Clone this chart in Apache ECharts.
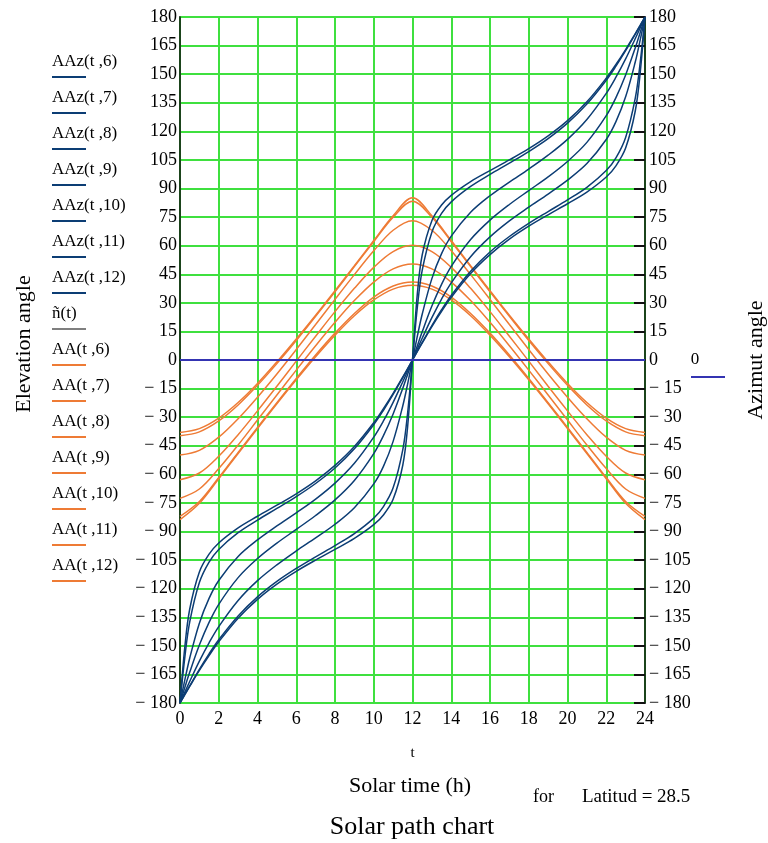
<!DOCTYPE html>
<html>
<head>
<meta charset="utf-8">
<script src="https://cdn.jsdelivr.net/npm/echarts@6/dist/echarts.min.js"></script>
<style>
  html, body { margin: 0; padding: 0; background: #fff; }
  #chart { width: 768px; height: 843px; }
</style>
</head>
<body>
<div id="chart"></div>
<script>
// solar time (h) for the elevation curves
const hours = [0,1,2,3,4,5,6,7,8,9,10,11,12,13,14,15,16,17,18,19,20,21,22,23,24];
// elevation angle AA(t, month)
const elevJun = [-38.0,-36.0,-30.5,-22.3,-12.3,-1.0,11.0,23.5,36.4,49.5,62.7,75.7,85.1,75.7,62.7,49.5,36.4,23.5,11.0,-1.0,-12.3,-22.3,-30.5,-36.0,-38.0];
const elevJul = [-39.7,-37.7,-32.0,-23.6,-13.3,-1.9,10.2,22.9,35.8,49.0,62.1,74.9,83.3,74.9,62.1,49.0,35.8,22.9,10.2,-1.9,-13.3,-23.6,-32.0,-37.7,-39.7];
const elevAug = [-49.9,-47.4,-40.5,-30.8,-19.5,-7.3,5.5,18.6,31.8,44.8,57.3,68.1,73.1,68.1,57.3,44.8,31.8,18.6,5.5,-7.3,-19.5,-30.8,-40.5,-47.4,-49.9];
const elevSep = [-62.8,-59.3,-50.5,-39.2,-26.7,-13.8,-0.6,12.5,25.4,37.6,48.6,56.9,60.2,56.9,48.6,37.6,25.4,12.5,-0.6,-13.8,-26.7,-39.2,-50.5,-59.3,-62.8];
const elevOct = [-72.6,-67.7,-57.0,-44.6,-31.5,-18.4,-5.3,7.5,19.8,31.2,40.9,47.8,50.4,47.8,40.9,31.2,19.8,7.5,-5.3,-18.4,-31.5,-44.6,-57.0,-67.7,-72.6];
const elevNov = [-82.1,-74.3,-61.7,-48.5,-35.4,-22.4,-9.7,2.6,14.1,24.4,33.0,38.8,40.9,38.8,33.0,24.4,14.1,2.6,-9.7,-22.4,-35.4,-48.5,-61.7,-74.3,-82.1];
const elevDec = [-83.8,-75.2,-62.3,-49.1,-36.0,-23.0,-10.4,1.7,13.0,23.2,31.5,37.2,39.2,37.2,31.5,23.2,13.0,1.7,-10.4,-23.0,-36.0,-49.1,-62.3,-75.2,-83.8];

// solar time (h) for the azimuth curves (denser where they are steep)
const azHours = [0,0.25,0.5,1,1.5,2,3,4,5,6,7,8,9,10,10.5,11,11.5,11.75,12,12.25,12.5,13,13.5,14,15,16,17,18,19,20,21,22,22.5,23,23.5,23.75,24];
// azimuth angle AAz(t, month)
const azJun = [-180,-175.6,-171.3,-162.9,-155.1,-147.9,-135.5,-125.6,-117.6,-110.9,-105.0,-99.4,-93.6,-86.4,-81.3,-73.1,-55.1,-34.8,0,34.8,55.1,73.1,81.3,86.4,93.6,99.4,105.0,110.9,117.6,125.6,135.5,147.9,155.1,162.9,171.3,175.6,180];
const azJul = [-180,-175.5,-171.0,-162.3,-154.2,-146.8,-134.3,-124.3,-116.2,-109.4,-103.3,-97.4,-91.1,-83.0,-76.9,-67.1,-47.0,-27.7,0,27.7,47.0,67.1,76.9,83.0,91.1,97.4,103.3,109.4,116.2,124.3,134.3,146.8,154.2,162.3,171.0,175.5,180];
const azAug = [-180,-174.3,-168.7,-158.0,-148.4,-139.9,-126.2,-115.8,-107.5,-100.2,-93.4,-86.2,-77.5,-65.0,-55.8,-42.7,-24.0,-12.5,0,12.5,24.0,42.7,55.8,65.0,77.5,86.2,93.4,100.2,107.5,115.8,126.2,139.9,148.4,158.0,168.7,174.3,180];
const azSep = [-180,-171.8,-163.9,-149.6,-137.7,-128.2,-114.2,-104.2,-96.1,-88.9,-81.6,-73.4,-63.2,-49.1,-39.7,-28.3,-14.8,-7.5,0,7.5,14.8,28.3,39.7,49.1,63.2,73.4,81.6,88.9,96.1,104.2,114.2,128.2,137.7,149.6,163.9,171.8,180];
const azOct = [-180,-167.9,-156.5,-138.1,-125.1,-115.7,-103.1,-94.4,-87.1,-80.2,-73.0,-64.6,-54.2,-40.5,-32.0,-22.2,-11.4,-5.8,0,5.8,11.4,22.2,32.0,40.5,54.2,64.6,73.0,80.2,87.1,94.4,103.1,115.7,125.1,138.1,156.5,167.9,180];
const azNov = [-180,-155.9,-137.6,-116.8,-106.1,-99.4,-90.6,-84.0,-77.9,-71.7,-64.8,-56.7,-46.6,-33.9,-26.4,-18.1,-9.2,-4.6,0,4.6,9.2,18.1,26.4,33.9,46.6,56.7,64.8,71.7,77.9,84.0,90.6,99.4,106.1,116.8,137.6,155.9,180];
const azDec = [-180,-150.5,-130.8,-111.2,-101.9,-96.0,-88.1,-82.0,-76.2,-70.2,-63.4,-55.3,-45.4,-32.9,-25.5,-17.5,-8.9,-4.5,0,4.5,8.9,17.5,25.5,32.9,45.4,55.3,63.4,70.2,76.2,82.0,88.1,96.0,101.9,111.2,130.8,150.5,180];

// horizontal zero line
const zeroHours = [0, 24];
const zeroValues = [0, 0];

const azNames = ['AAz(t ,6)','AAz(t ,7)','AAz(t ,8)','AAz(t ,9)','AAz(t ,10)','AAz(t ,11)','AAz(t ,12)'];
const elevNames = ['AA(t ,6)','AA(t ,7)','AA(t ,8)','AA(t ,9)','AA(t ,10)','AA(t ,11)','AA(t ,12)'];

const AZ_COLOR = '#0c3d74';
const EL_COLOR = '#ee7b35';
const ZERO_COLOR = '#3434b2';
const GRID_COLOR = '#3fe03f';
const FONT = '"Liberation Serif", "Times New Roman", serif';

const chart = echarts.init(document.getElementById('chart'));

const pairs = (xs, ys) => xs.map((x, i) => [x, ys[i]]);
const fmt = v => (v < 0 ? '\u2212 ' + Math.abs(v) : String(v));

const lineSeries = (name, xs, ys, color, width) => ({
	name,
	type: 'line',
	data: pairs(xs, ys),
	showSymbol: false,
	smooth: 0.35,
	lineStyle: { color, width },
	animation: false,
	silent: true,
});

const series = [];
[elevJun, elevJul, elevAug, elevSep, elevOct, elevNov, elevDec].forEach((ys, i) => {
	series.push(lineSeries(elevNames[i], hours, ys, EL_COLOR, 1.5));
});
[azJun, azJul, azAug, azSep, azOct, azNov, azDec].forEach((ys, i) => {
	series.push(lineSeries(azNames[i], azHours, ys, AZ_COLOR, 1.5));
});
series.push(lineSeries('0', zeroHours, zeroValues, ZERO_COLOR, 2));

// left hand legend, Mathcad style: name with a coloured line under it
const legendItems = [
	...azNames.map(n => ({ name: n, color: AZ_COLOR })),
	{ name: 'ñ(t)', color: '#7f7f7f' },
	...elevNames.map(n => ({ name: n, color: EL_COLOR })),
];
const graphic = [];
legendItems.forEach((it, i) => {
	const y = 62 + 36 * i;
	graphic.push({
		type: 'text', x: 52, y,
		style: { text: it.name, font: '17px ' + FONT, fill: '#000', align: 'left', verticalAlign: 'middle' },
	});
	graphic.push({
		type: 'line', shape: { x1: 52, y1: y + 15, x2: 86, y2: y + 15 },
		style: { stroke: it.color, lineWidth: 2 },
	});
});
graphic.push(
	{ type: 'text', x: 695, y: 360, style: { text: '0', font: '17px ' + FONT, fill: '#000', align: 'center', verticalAlign: 'middle' } },
	{ type: 'line', shape: { x1: 691, y1: 377, x2: 725, y2: 377 }, style: { stroke: ZERO_COLOR, lineWidth: 2 } },
	{ type: 'text', x: 24, y: 344, rotation: Math.PI / 2,
		style: { text: 'Elevation angle', font: '22px ' + FONT, fill: '#000', align: 'center', verticalAlign: 'middle' } },
	{ type: 'text', x: 756, y: 360, rotation: Math.PI / 2,
		style: { text: 'Azimut angle', font: '22px ' + FONT, fill: '#000', align: 'center', verticalAlign: 'middle' } },
	{ type: 'text', x: 410, y: 786,
		style: { text: 'Solar time (h)', font: '22px ' + FONT, fill: '#000', align: 'center', verticalAlign: 'middle' } },
	{ type: 'text', x: 533, y: 797,
		style: { text: 'for', font: '18px ' + FONT, fill: '#000', align: 'left', verticalAlign: 'middle' } },
	{ type: 'text', x: 582, y: 797,
		style: { text: 'Latitud = 28.5', font: '19px ' + FONT, fill: '#000', align: 'left', verticalAlign: 'middle' } },
	{ type: 'text', x: 412, y: 827,
		style: { text: 'Solar path chart', font: '26px ' + FONT, fill: '#000', align: 'center', verticalAlign: 'middle' } }
);

const yAxisBase = {
	type: 'value',
	min: -180,
	max: 180,
	interval: 15,
	axisLine: { show: true, lineStyle: { color: '#111', width: 1.5 } },
	axisLabel: { formatter: fmt, color: '#000', fontFamily: FONT, fontSize: 18 },
};

const option = {
	backgroundColor: '#fff',
	animation: false,
	grid: {
		left: 180, top: 17, width: 465, height: 686,
		show: true, borderColor: '#111', borderWidth: 1.5, backgroundColor: 'transparent',
	},
	xAxis: {
		type: 'value',
		min: 0,
		max: 24,
		interval: 2,
		name: 't',
		nameLocation: 'middle',
		nameGap: 43,
		nameTextStyle: { color: '#000', fontFamily: FONT, fontSize: 15 },
		axisLine: { show: true, lineStyle: { color: '#111', width: 1.5 } },
		axisTick: { show: false },
		axisLabel: { color: '#000', fontFamily: FONT, fontSize: 18, margin: 7 },
		splitLine: { show: true, lineStyle: { color: GRID_COLOR, width: 2 } },
	},
	yAxis: [
		Object.assign({}, yAxisBase, {
			position: 'left',
			axisTick: { show: false },
			axisLabel: Object.assign({}, yAxisBase.axisLabel, { margin: 3 }),
			splitLine: { show: true, lineStyle: { color: GRID_COLOR, width: 2 } },
		}),
		Object.assign({}, yAxisBase, {
			position: 'right',
			axisTick: { show: true, inside: true, length: 11, lineStyle: { color: '#111', width: 2 } },
			axisLabel: Object.assign({}, yAxisBase.axisLabel, { margin: 4 }),
			splitLine: { show: false },
		}),
	],
	graphic,
	series,
};

chart.setOption(option);
</script>
</body>
</html>
